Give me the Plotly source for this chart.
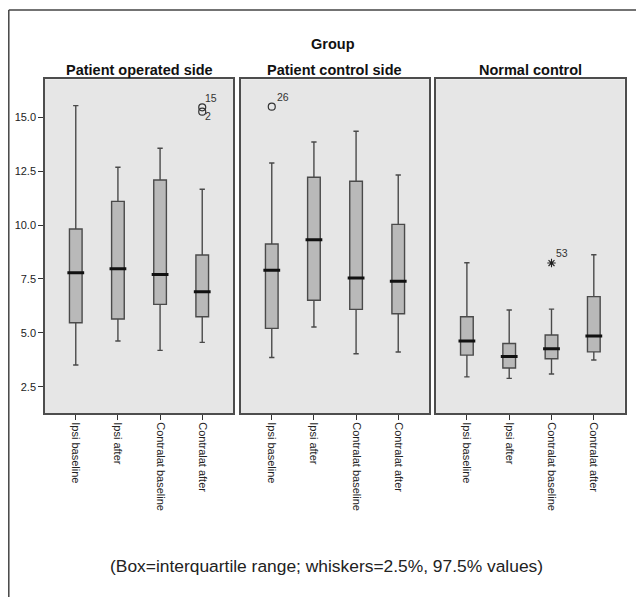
import plotly.graph_objects as go

# ---------------- data ----------------
categories = ["Ipsi baseline", "Ipsi after", "Contralat baseline", "Contralat after"]
groups = ["Patient operated side", "Patient control side", "Normal control"]

op_low = [3.51, 4.62, 4.19, 4.56]
op_q1 = [5.47, 5.64, 6.32, 5.75]
op_med = [7.79, 7.97, 7.71, 6.91]
op_q3 = [9.82, 11.10, 12.09, 8.61]
op_high = [15.54, 12.68, 13.56, 11.66]

ctl_low = [3.86, 5.27, 4.03, 4.11]
ctl_q1 = [5.21, 6.51, 6.09, 5.89]
ctl_med = [7.90, 9.32, 7.54, 7.39]
ctl_q3 = [9.12, 12.22, 12.03, 10.03]
ctl_high = [12.88, 13.85, 14.35, 12.32]

nc_low = [2.96, 2.89, 3.09, 3.74]
nc_q1 = [3.97, 3.37, 3.80, 4.12]
nc_med = [4.62, 3.91, 4.26, 4.85]
nc_q3 = [5.75, 4.51, 4.90, 6.68]
nc_high = [8.25, 6.06, 6.10, 8.62]

op_out_cat = ["Contralat after", "Contralat after"]
op_out_val = [15.46, 15.26]
op_out_lab = ["15", "2"]

ctl_out_cat = ["Ipsi baseline"]
ctl_out_val = [15.49]
ctl_out_lab = ["26"]

nc_ext_cat = ["Contralat baseline"]
nc_ext_val = [8.24]
nc_ext_lab = ["53"]

y_ticks = [2.5, 5.0, 7.5, 10.0, 12.5, 15.0]
title_text = "Group"
footnote = "(Box=interquartile range; whiskers=2.5%, 97.5% values)"

# ---------------- figure ----------------
# the page body adds an 8px margin, so the figure is 8px smaller than the window
W, H = 636, 589
FONT = "Liberation Sans, Arial, Helvetica, sans-serif"
BOX_FILL = "#b9b9b9"
BOX_LINE = "#4a4a4a"

fig = go.Figure()

panels = [
    (op_low, op_q1, op_med, op_q3, op_high),
    (ctl_low, ctl_q1, ctl_med, ctl_q3, ctl_high),
    (nc_low, nc_q1, nc_med, nc_q3, nc_high),
]
axis_ids = ["", "2", "3"]

for i, (lo, q1, md, q3, hi) in enumerate(panels):
    xa = "x" + axis_ids[i]
    ya = "y" + axis_ids[i]
    fig.add_trace(go.Box(
        x=categories, q1=q1, median=md, q3=q3, lowerfence=lo, upperfence=hi,
        boxpoints=False, width=0.3, whiskerwidth=0.42,
        fillcolor=BOX_FILL, line=dict(color=BOX_LINE, width=1.4),
        xaxis=xa, yaxis=ya, showlegend=False, hoverinfo="skip",
    ))
    fig.add_trace(go.Scatter(
        x=categories, y=md, mode="markers",
        marker=dict(symbol="line-ew", size=12, line=dict(color="#111111", width=3)),
        xaxis=xa, yaxis=ya, showlegend=False, hoverinfo="skip",
    ))

# outliers
fig.add_trace(go.Scatter(
    x=op_out_cat, y=op_out_val, mode="markers",
    marker=dict(symbol="circle-open", size=7, color="#333333", line=dict(width=1.2)),
    xaxis="x", yaxis="y", showlegend=False, hoverinfo="skip"))
fig.add_trace(go.Scatter(
    x=ctl_out_cat, y=ctl_out_val, mode="markers",
    marker=dict(symbol="circle-open", size=7, color="#333333", line=dict(width=1.2)),
    xaxis="x2", yaxis="y2", showlegend=False, hoverinfo="skip"))
fig.add_trace(go.Scatter(
    x=nc_ext_cat, y=nc_ext_val, mode="markers",
    marker=dict(symbol="asterisk-open", size=7, color="#222222", line=dict(width=1.1)),
    xaxis="x3", yaxis="y3", showlegend=False, hoverinfo="skip"))

ann = []
lab_font = dict(family=FONT, size=10.5, color="#333333")
ann.append(dict(x=op_out_cat[0], y=op_out_val[0], xref="x", yref="y", text=op_out_lab[0],
                showarrow=False, xshift=9, yshift=9, font=lab_font))
ann.append(dict(x=op_out_cat[1], y=op_out_val[1], xref="x", yref="y", text=op_out_lab[1],
                showarrow=False, xshift=6, yshift=-4, font=lab_font))
ann.append(dict(x=ctl_out_cat[0], y=ctl_out_val[0], xref="x2", yref="y2", text=ctl_out_lab[0],
                showarrow=False, xshift=11, yshift=10, font=lab_font))
ann.append(dict(x=nc_ext_cat[0], y=nc_ext_val[0], xref="x3", yref="y3", text=nc_ext_lab[0],
                showarrow=False, xshift=10, yshift=10, font=lab_font))

# layout positions in figure pixels
x_domains = [[37 / W, 225 / W], [233 / W, 421 / W], [428 / W, 616.7 / W]]
y_domain = [(H - 405.3) / H, (H - 71.3) / H]
for i, g in enumerate(groups):
    ann.append(dict(x=sum(x_domains[i]) / 2, y=1 - 61.5 / H, xref="paper", yref="paper",
                    text="<b>" + g + "</b>", showarrow=False, xanchor="center",
                    font=dict(family=FONT, size=14.5, color="#111111"), yanchor="middle"))
ann.append(dict(x=325 / W, y=1 - 36 / H, xref="paper", yref="paper",
                text="<b>" + title_text + "</b>", showarrow=False, xanchor="center",
                font=dict(family=FONT, size=14.5, color="#111111"), yanchor="middle"))
ann.append(dict(x=318.5 / W, y=1 - 558 / H, xref="paper", yref="paper",
                text=footnote, showarrow=False, xanchor="center",
                font=dict(family=FONT, size=17.4, color="#222222"), yanchor="middle"))

layout = dict(
    width=W, height=H, margin=dict(l=0, r=0, t=0, b=0),
    paper_bgcolor="white", plot_bgcolor="#e6e6e6",
    font=dict(family=FONT, size=11, color="#222222"),
    annotations=ann,
    shapes=[
        dict(type="line", xref="paper", yref="paper", x0=0.8 / W, x1=0.8 / W, y0=0, y1=1 - 2 / H,
             line=dict(color="#444444", width=1.5)),
        dict(type="line", xref="paper", yref="paper", x0=0.8 / W, x1=1, y0=1 - 2 / H, y1=1 - 2 / H,
             line=dict(color="#444444", width=1.5)),
    ],
)

for i in range(3):
    suf = "" if i == 0 else str(i + 1)
    layout["xaxis" + suf] = dict(
        domain=x_domains[i], anchor="y" + suf, type="category",
        categoryorder="array", categoryarray=categories,
        range=[-0.73, 3.73], showgrid=False, zeroline=False,
        showline=True, mirror=True, linecolor="#4d4d4d", linewidth=1.5,
        ticks="outside", ticklen=5, tickcolor="#333333", tickwidth=1,
        tickangle=90, tickfont=dict(family=FONT, size=11, color="#222222"),
    )
    layout["yaxis" + suf] = dict(
        domain=y_domain, anchor="x" + suf, range=[1.27, 16.76],
        showgrid=False, zeroline=False,
        showline=True, mirror=True, linecolor="#4d4d4d", linewidth=1.5,
        tickvals=y_ticks, tickformat=".1f",
        ticks="outside" if i == 0 else "", ticklen=5, tickcolor="#333333",
        showticklabels=(i == 0), tickfont=dict(family=FONT, size=11, color="#222222"),
    )

fig.update_layout(**layout)
fig.write_html("out.html")
